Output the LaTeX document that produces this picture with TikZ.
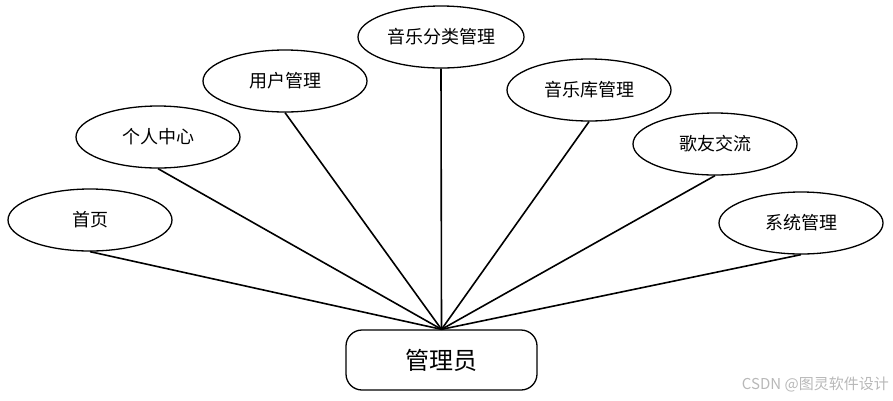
\documentclass[tikz,border=0pt]{standalone}
\usepackage{fontspec}
\newfontfamily\cjk{Noto Sans CJK SC}
\usetikzlibrary{shapes.geometric}
\begin{document}
\begin{tikzpicture}[x=1pt,y=-1pt,
  func/.style={ellipse,draw,line width=1.3pt,minimum width=164pt,minimum height=62pt,inner sep=0pt,font=\cjk\fontsize{18}{21}\selectfont},
  role/.style={rounded corners=16pt,draw,line width=1.3pt,minimum width=191pt,minimum height=60pt,inner sep=0pt,font=\cjk\fontsize{24}{27}\selectfont},
  link/.style={line width=1.6pt}]
\useasboundingbox (0,0) rectangle (893,400);
\node[func] (a) at (90,220) {首页};
\node[func] (b) at (158,137) {个人中心};
\node[func] (c) at (285,81) {用户管理};
\node[func,minimum width=166pt] (d) at (441,37) {音乐分类管理};
\node[func] (e) at (589,90) {音乐库管理};
\node[func] (f) at (715,144) {歌友交流};
\node[func] (g) at (801,223) {系统管理};
\node[role] (r) at (441.5,360) {管理员};
\foreach \n in {a,b,c,d,e,f,g} \draw[link] (\n.south) -- (r.north);
\node[anchor=east,text=black!28,font=\cjk\fontsize{15}{17}\selectfont,inner sep=0pt] (w) at (889,384) {CSDN @图灵软件设计};
\end{tikzpicture}
\end{document}
